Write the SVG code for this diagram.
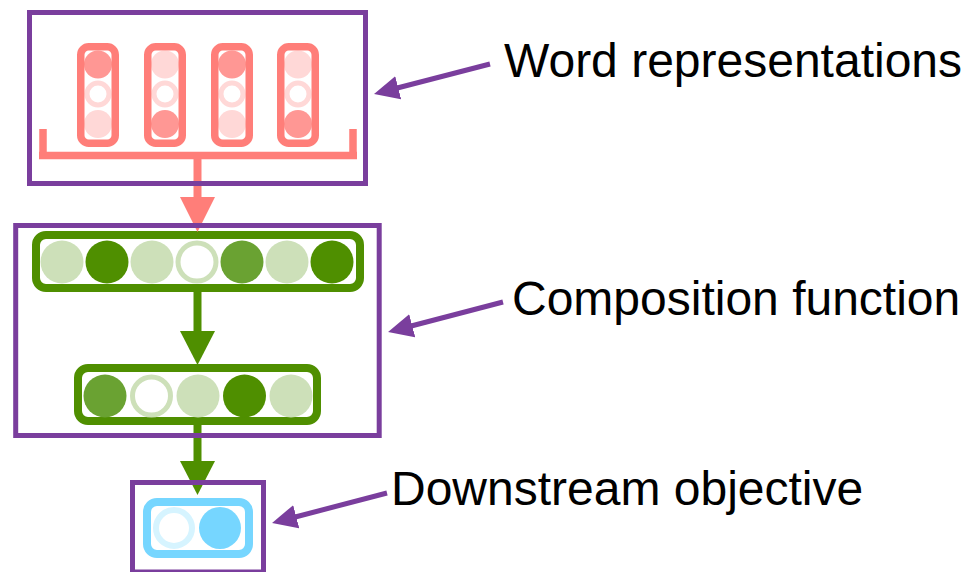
<svg xmlns="http://www.w3.org/2000/svg" width="969" height="572" viewBox="0 0 969 572">
<style>
.frame{fill:none;stroke:#7A3E9D;stroke-width:5}
.wbar{fill:none;stroke:#FF7E79;stroke-width:7.5}
.wdark{fill:#FF9794}
.wlight{fill:#FFD8D7}
.wring{fill:#fff;stroke:#FFD8D7;stroke-width:5}
.gbar{fill:#fff;stroke:#4F8F00;stroke-width:8}
.gdark{fill:#4F8F00}
.gmed{fill:#6AA232}
.glight{fill:#CDE0B9}
.gring{fill:#fff;stroke:#CDE0B9;stroke-width:5}
.bbar{fill:#fff;stroke:#76D6FF;stroke-width:8}
.bfill{fill:#76D6FF}
.bring{fill:#fff;stroke:#D6F4FF;stroke-width:6}
.label{font-family:"Liberation Sans",Arial,sans-serif;font-size:48px;fill:#000}
.callout{stroke:#7A3E9D;stroke-width:5;fill:none;marker-end:url(#purpleHead)}
</style>
<defs>
<marker id="purpleHead" markerUnits="userSpaceOnUse" markerWidth="25" markerHeight="24" refX="5" refY="12" orient="auto" viewBox="0 0 25 24">
<path d="M0,0 L25,12 L0,24 z" fill="#7A3E9D"/>
</marker>
<marker id="redHead" markerUnits="userSpaceOnUse" markerWidth="35" markerHeight="35" refX="0" refY="17.5" orient="auto" viewBox="0 0 35 35">
<path d="M0,0 L35,17.5 L0,35 z" fill="#FF7E79"/>
</marker>
<marker id="greenHead" markerUnits="userSpaceOnUse" markerWidth="34" markerHeight="35" refX="0" refY="17.5" orient="auto" viewBox="0 0 34 35">
<path d="M0,0 L34,17.5 L0,35 z" fill="#4F8F00"/>
</marker>
</defs>

<g id="word-representations">
<g id="word1">
<circle class="wdark" cx="98" cy="64.5" r="14"/>
<circle class="wring" cx="98" cy="94" r="11"/>
<circle class="wlight" cx="98" cy="124" r="14"/>
<rect class="wbar" x="80.75" y="46.75" width="34.5" height="96.5" rx="8"/>
</g>
<g id="word2">
<circle class="wlight" cx="165" cy="64.5" r="14"/>
<circle class="wring" cx="165" cy="94" r="11"/>
<circle class="wdark" cx="165" cy="124" r="14"/>
<rect class="wbar" x="147.75" y="46.75" width="34.5" height="96.5" rx="8"/>
</g>
<g id="word3">
<circle class="wdark" cx="232" cy="64.5" r="14"/>
<circle class="wring" cx="232" cy="94" r="11"/>
<circle class="wlight" cx="232" cy="124" r="14"/>
<rect class="wbar" x="214.75" y="46.75" width="34.5" height="96.5" rx="8"/>
</g>
<g id="word4">
<circle class="wlight" cx="298" cy="64.5" r="14"/>
<circle class="wring" cx="298" cy="94" r="11"/>
<circle class="wdark" cx="298" cy="124" r="14"/>
<rect class="wbar" x="280.75" y="46.75" width="34.5" height="96.5" rx="8"/>
</g>
<path id="bracket" d="M43,129 V155.5 H353 V129 M39,155.5 H357" fill="none" stroke="#FF7E79" stroke-width="7.5"/>
</g>

<g id="composition-top">
<rect class="gbar" x="36" y="235" width="324" height="53" rx="10"/>
<circle class="glight" cx="62" cy="262" r="21.5"/>
<circle class="gdark" cx="107" cy="262" r="21.5"/>
<circle class="glight" cx="152" cy="262" r="21.5"/>
<circle class="gring" cx="197" cy="262" r="19"/>
<circle class="gmed" cx="242" cy="262" r="21.5"/>
<circle class="glight" cx="287" cy="262" r="21.5"/>
<circle class="gdark" cx="332" cy="262" r="21.5"/>
</g>

<g id="composition-bottom">
<rect class="gbar" x="78" y="368" width="239" height="53" rx="10"/>
<circle class="gmed" cx="105" cy="396" r="21.5"/>
<circle class="gring" cx="151.5" cy="396" r="19"/>
<circle class="glight" cx="198" cy="396" r="21.5"/>
<circle class="gdark" cx="244.5" cy="396" r="21.5"/>
<circle class="glight" cx="291" cy="396" r="21.5"/>
</g>

<g id="downstream-objective">
<rect class="bbar" x="147" y="502" width="102" height="52" rx="10"/>
<circle class="bring" cx="174" cy="528" r="18"/>
<circle class="bfill" cx="220" cy="528" r="21"/>
</g>

<g id="connectors">
<line x1="197.5" y1="155" x2="197.5" y2="197" stroke="#FF7E79" stroke-width="8" marker-end="url(#redHead)"/>
<line x1="197.5" y1="290" x2="197.5" y2="331" stroke="#4F8F00" stroke-width="8" marker-end="url(#greenHead)"/>
<line x1="197.5" y1="425" x2="197.5" y2="461" stroke="#4F8F00" stroke-width="8" marker-end="url(#greenHead)"/>
<line class="callout" x1="490" y1="64" x2="393.4" y2="89"/>
<line class="callout" x1="503" y1="302" x2="407.4" y2="327"/>
<line class="callout" x1="387" y1="493" x2="291.4" y2="518"/>
</g>

<g id="frames">
<rect id="frame-word" class="frame" x="29.5" y="12.5" width="336" height="171"/>
<rect id="frame-composition" class="frame" x="15.7" y="225.5" width="363.5" height="210"/>
<rect id="frame-downstream" class="frame" x="132.5" y="482.5" width="131" height="89.5"/>
</g>

<g id="labels">
<text class="label" x="504" y="77">Word representations</text>
<text class="label" x="512" y="315">Composition function</text>
<text class="label" x="391" y="505">Downstream objective</text>
</g>
</svg>
